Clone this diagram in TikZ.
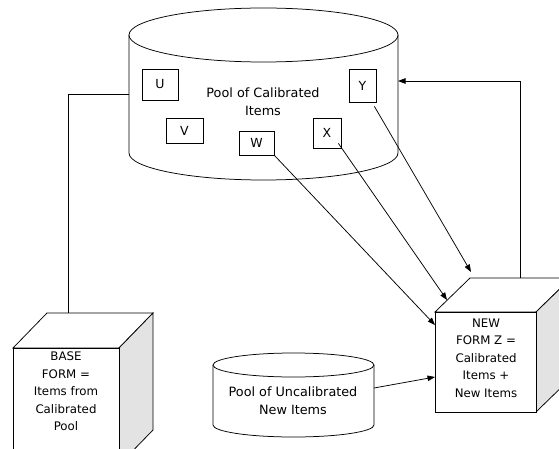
\documentclass[tikz,border=0pt]{standalone}
\usepackage{fontspec}
\setmainfont{DejaVu Sans}
\usetikzlibrary{arrows.meta}
\begin{document}
\begin{tikzpicture}[x=1pt,y=1pt,line width=0.75pt,
  >={Triangle[length=7.5pt,width=5.5pt]},
  itembox/.style={draw,inner sep=0pt,font=\fontsize{12.5}{14}\selectfont},
  poollabel/.style={align=center,inner sep=0pt,font=\fontsize{12.8}{18}\selectfont},
  cubelabel/.style={align=center,inner sep=0pt,font=\fontsize{11.8}{17.5}\selectfont},
  side/.style={draw,fill=gray!22},
  face/.style={draw,fill=white}]
\useasboundingbox (0,0) rectangle (559,448);
\clip (0,0) rectangle (559,448);
% calibrated pool cylinder
\draw[face] (129,413) -- (129,295) arc[start angle=180,end angle=360,x radius=134.5pt,y radius=27pt] -- (398,413);
\draw[face] (263.5,413) ellipse[x radius=134.5pt,y radius=27pt];
\node[poollabel] (calib) at (263,346) {Pool of Calibrated\\Items};
\node[itembox,minimum width=36pt,minimum height=31pt] (U) at (160,363.5) {U};
\node[itembox,minimum width=37pt,minimum height=25pt] (V) at (184.5,317.5) {V};
\node[itembox,minimum width=35pt,minimum height=24pt] (W) at (256.5,305) {W};
\node[itembox,minimum width=28pt,minimum height=30pt] (X) at (327,315) {X};
\node[itembox,minimum width=27pt,minimum height=33pt] (Y) at (362.5,362.5) {Y};
% uncalibrated pool
\draw[face] (213,83) -- (213,23) arc[start angle=180,end angle=360,x radius=80.5pt,y radius=12pt] -- (374,83);
\draw[face] (293.5,83) ellipse[x radius=80.5pt,y radius=12pt];
\node[poollabel] (uncal) at (293,47) {Pool of Uncalibrated\\New Items};
% base form cube
\draw[face] (13,100) -- (119,100) -- (153,135) -- (47,135) -- cycle;
\draw[side] (119,100) -- (153,135) -- (153,18) -- (119,-17) -- cycle;
\draw[face] (13,-17) rectangle (119,100);
\node[cubelabel] (base) at (66,56.5) {BASE\\FORM =\\Items from\\Calibrated\\Pool};
% new form cube
\draw[face] (435,136) -- (536,136) -- (571,170) -- (470,170) -- cycle;
\draw[side] (536,136) -- (571,170) -- (571,70) -- (536,36) -- cycle;
\draw[face] (435,36) rectangle (536,136);
\node[cubelabel] (newf) at (486,90) {NEW\\FORM Z =\\Calibrated\\Items +\\New Items};
% anchor coordinates
\coordinate (calL) at (129,354);
\coordinate (baseTop) at (68,135);
\coordinate (calR) at (398,367);
\coordinate (newTop) at (520,170);
\coordinate (nfW) at (435,123);
\coordinate (nfX) at (447,148);
\coordinate (nfY) at (471,176);
\coordinate (nfU) at (435,71);
\coordinate (ucR) at (374,60);
% connectors
\draw (calL) -| (baseTop);
\draw[->] (newTop) |- (calR);
\draw[->] (W.south east) -- (nfW);
\draw[->] (X.south east) ++(-3,5) -- (nfX);
\draw[->] (Y.south east) ++(-2,-4) -- (nfY);
\draw[->] (ucR) -- (nfU);
\end{tikzpicture}
\end{document}
